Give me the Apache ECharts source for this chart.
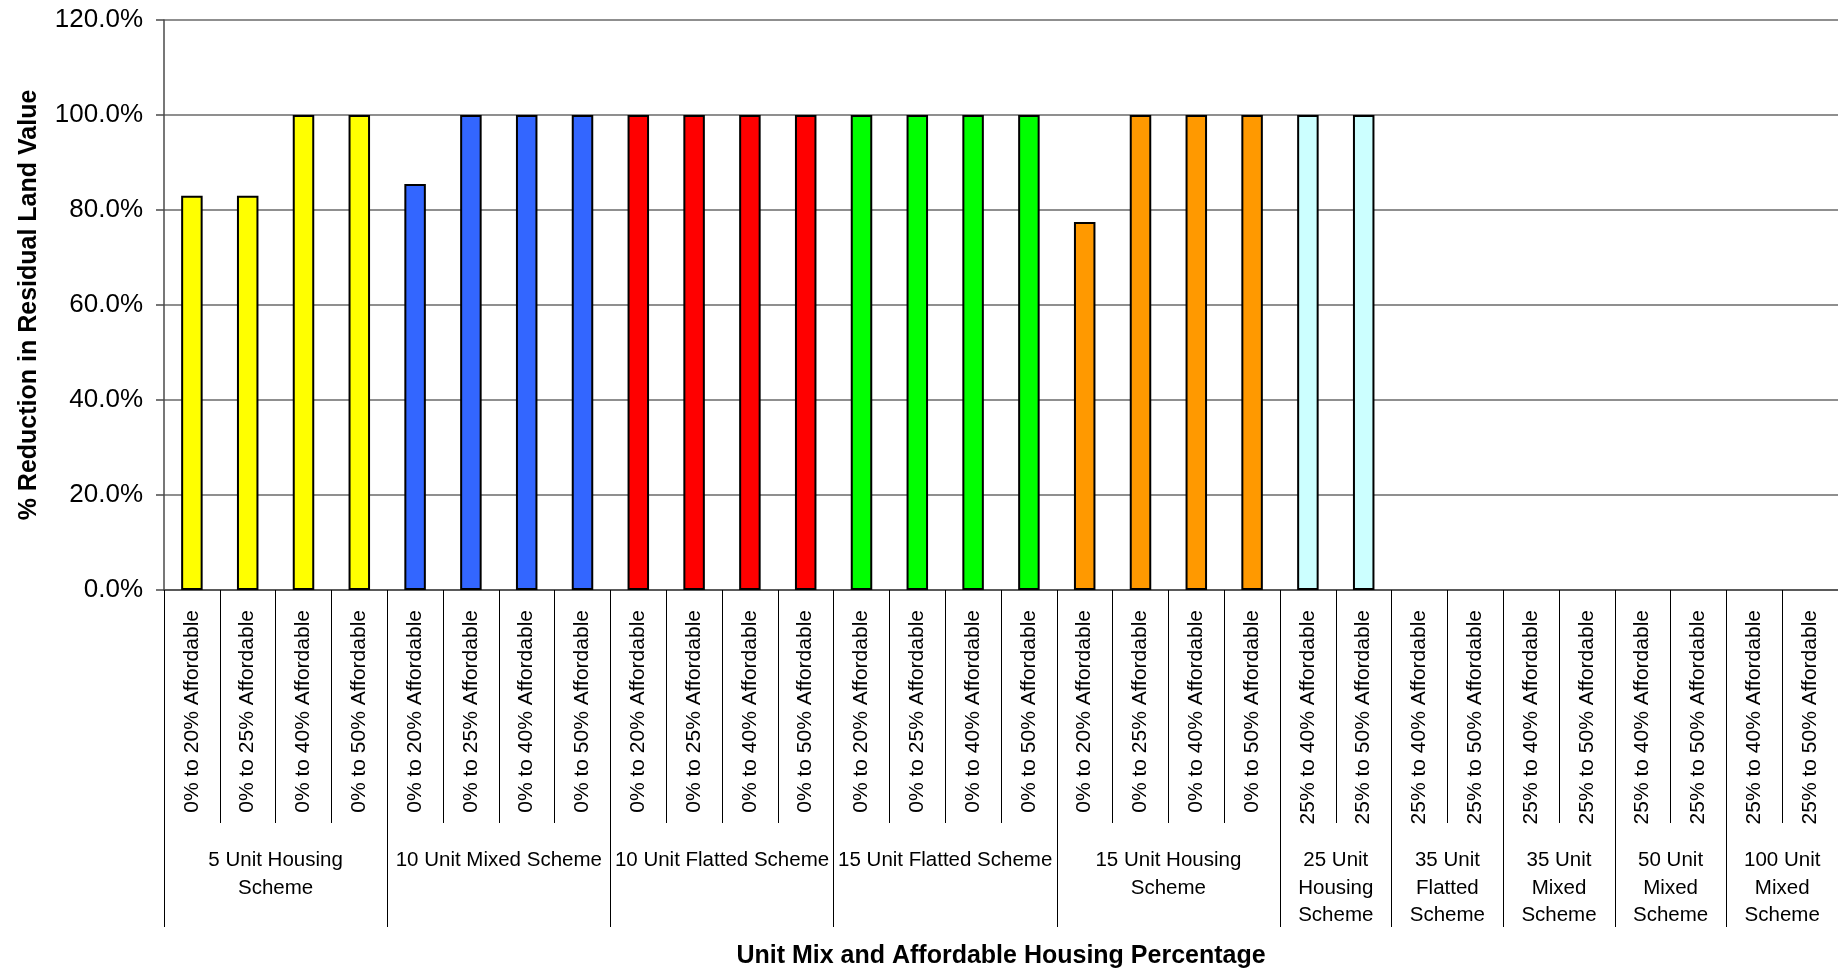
<!DOCTYPE html>
<html>
<head>
<meta charset="utf-8">
<script src="https://cdn.jsdelivr.net/npm/echarts@6/dist/echarts.min.js"></script>
<style>
  html, body { margin: 0; padding: 0; background: #ffffff; }
  #chart { width: 1838px; height: 969px; }
</style>
</head>
<body>
<div id="chart"></div>
<script>
// Affordable housing bands tested for each scheme (one bar per band)
const bandLabels = [
  '0% to 20% Affordable', '0% to 25% Affordable', '0% to 40% Affordable', '0% to 50% Affordable',
  '0% to 20% Affordable', '0% to 25% Affordable', '0% to 40% Affordable', '0% to 50% Affordable',
  '0% to 20% Affordable', '0% to 25% Affordable', '0% to 40% Affordable', '0% to 50% Affordable',
  '0% to 20% Affordable', '0% to 25% Affordable', '0% to 40% Affordable', '0% to 50% Affordable',
  '0% to 20% Affordable', '0% to 25% Affordable', '0% to 40% Affordable', '0% to 50% Affordable',
  '25% to 40% Affordable', '25% to 50% Affordable',
  '25% to 40% Affordable', '25% to 50% Affordable',
  '25% to 40% Affordable', '25% to 50% Affordable',
  '25% to 40% Affordable', '25% to 50% Affordable',
  '25% to 40% Affordable', '25% to 50% Affordable'
];

// % reduction in residual land value per band (blank where no result)
const reductionPct = [
  83.0, 83.0, 100, 100,
  85.5, 100, 100, 100,
  100, 100, 100, 100,
  100, 100, 100, 100,
  77.5, 100, 100, 100,
  100, 100,
  null, null,
  null, null,
  null, null,
  null, null
];

// Scheme groups along the lower axis row
const schemeNames = [
  '5 Unit Housing\nScheme', '10 Unit Mixed Scheme', '10 Unit Flatted Scheme',
  '15 Unit Flatted Scheme', '15 Unit Housing\nScheme', '25 Unit\nHousing\nScheme',
  '35 Unit\nFlatted\nScheme', '35 Unit\nMixed\nScheme', '50 Unit\nMixed\nScheme',
  '100 Unit\nMixed\nScheme'
];
const schemeBandCounts = [4, 4, 4, 4, 4, 2, 2, 2, 2, 2];
const schemeColors = ['#FFFF00', '#3366FF', '#FF0000', '#00FF00', '#FF9900', '#CCFFFF',
                      '#C0C0C0', '#C0C0C0', '#C0C0C0', '#C0C0C0'];

// Value axis ticks (percent)
const yMin = 0, yMax = 120, yStep = 20;

// Group boundaries and centres in band units
const groupEdges = [0];
const groupCentres = [];
const bandColor = [];
schemeBandCounts.forEach(function (n, g) {
  const start = groupEdges[groupEdges.length - 1];
  groupCentres.push(start + n / 2);
  groupEdges.push(start + n);
  for (let k = 0; k < n; k++) bandColor.push(schemeColors[g]);
});

const barData = reductionPct.map(function (v, i) {
  return { value: v, itemStyle: { color: bandColor[i] } };
});

const FONT = 'Liberation Sans, Arial, sans-serif';
const gridColor = '#6a6a6a';

const chart = echarts.init(document.getElementById('chart'), null, { renderer: 'canvas' });

chart.setOption({
  animation: false,
  backgroundColor: '#ffffff',
  grid: {
    left: 164, right: 0, top: 20, bottom: 379,
    containLabel: false, outerBoundsMode: 'none'
  },
  xAxis: [
    {
      type: 'category',
      data: bandLabels,
      position: 'bottom',
      boundaryGap: true,
      axisLine: { show: true, lineStyle: { color: '#4a4a4a', width: 1.5 } },
      axisTick: { show: true, interval: 0, length: 233, lineStyle: { color: '#000000', width: 1 } },
      axisLabel: {
        interval: 0, rotate: 90, margin: 20,
        fontFamily: FONT, fontSize: 21, color: '#000000'
      },
      splitLine: { show: false }
    },
    {
      type: 'value',
      min: 0,
      max: groupEdges[groupEdges.length - 1],
      position: 'bottom',
      axisLine: { show: false },
      axisTick: {
        show: true, length: 337, customValues: groupEdges,
        lineStyle: { color: '#000000', width: 1 }
      },
      axisLabel: {
        show: true, customValues: groupCentres, margin: 257,
        fontFamily: FONT, fontSize: 20.5, color: '#000000',
        lineHeight: 27.5, align: 'center', verticalAlign: 'top',
        formatter: function (v) {
          const idx = groupCentres.findIndex(function (c) { return Math.abs(c - v) < 1e-6; });
          return idx >= 0 ? schemeNames[idx] : '';
        }
      },
      splitLine: { show: false },
      name: 'Unit Mix and Affordable Housing Percentage',
      nameLocation: 'middle',
      nameGap: 354,
      nameTextStyle: { fontFamily: FONT, fontSize: 25, fontWeight: 'bold', color: '#000000' }
    }
  ],
  yAxis: {
    type: 'value',
    min: yMin, max: yMax, interval: yStep,
    axisLine: { show: true, lineStyle: { color: '#4a4a4a', width: 1.5 } },
    axisTick: { show: true, length: 8, lineStyle: { color: '#4a4a4a', width: 1.5 } },
    axisLabel: {
      margin: 21, fontFamily: FONT, fontSize: 26, color: '#000000',
      formatter: function (v) { return v.toFixed(1) + '%'; }
    },
    splitLine: { show: true, lineStyle: { color: gridColor, width: 1.5 } },
    name: '% Reduction in Residual Land Value',
    nameLocation: 'middle',
    nameGap: 122,
    nameTextStyle: { fontFamily: FONT, fontSize: 25, fontWeight: 'bold', color: '#000000' }
  },
  series: [
    {
      type: 'bar',
      xAxisIndex: 0,
      yAxisIndex: 0,
      data: barData,
      barWidth: 21.5,
      itemStyle: { borderColor: '#000000', borderWidth: 2 }
    }
  ]
});
</script>
</body>
</html>
